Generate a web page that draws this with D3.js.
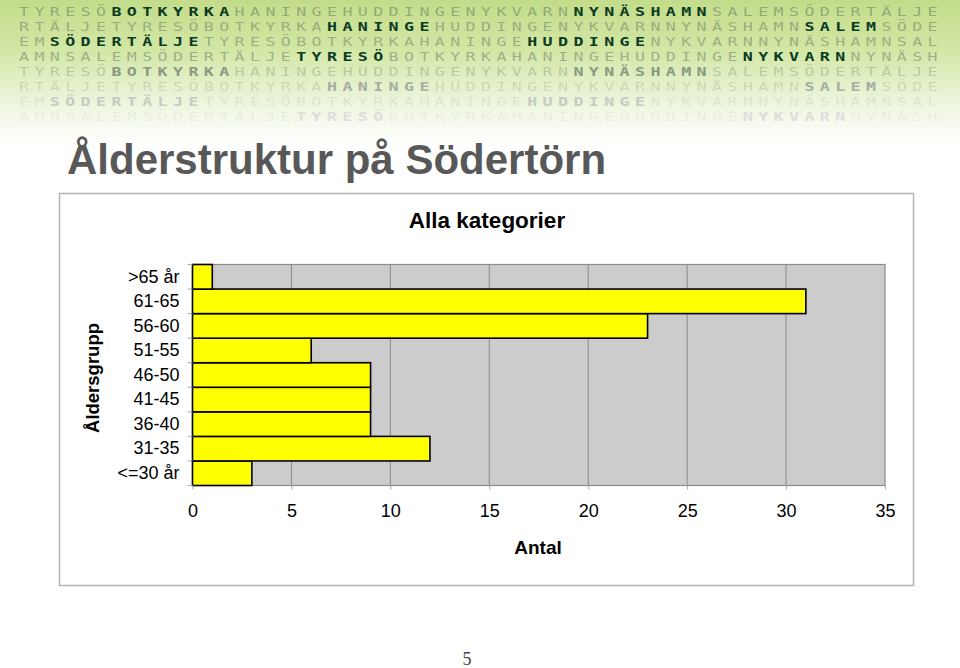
<!DOCTYPE html>
<html><head><meta charset="utf-8">
<script src="https://cdn.jsdelivr.net/npm/d3@7"></script>
<style>html,body{margin:0;padding:0;background:#fff;}svg{display:block;}</style>
</head><body>
<script>
// ---- data ----
const categories = ["<=30 år","31-35","36-40","41-45","46-50","51-55","56-60","61-65",">65 år"];
const values = [3,12,9,9,9,6,23,31,1];
const xTicks = [0,5,10,15,20,25,30,35];
const title = "Ålderstruktur på Södertörn";
const chartTitle = "Alla kategorier";
const yTitle = "Åldersgrupp";
const xTitle = "Antal";
const pageNumber = "5";

// banner decoration
const bannerBase = "TYRESÖBOTKYRKAHANINGEHUDDINGENYKVARNNYNÄSHAMNSALEMSÖDERTÄLJE";
const bannerOffsets = [0,54,48,42,0,54,48,42];
const bannerHighlights = [[[6,13],[36,44]],[[14,20],[45,49]],[[50,59],[21,28]],[[0,5],[29,35]],
                          [[6,13],[36,44]],[[14,20],[45,49]],[[50,59],[21,28]],[[0,5],[29,35]]];
const hiColors = ["#0b3b22","#0b3b22","#0b3b22","#0b3b22","#8a9a82","#a6aea2","#c6cbc3","#dcdfd9"];
const dimColors = ["rgba(105,120,95,0.55)","rgba(105,120,95,0.52)","rgba(105,120,95,0.50)","rgba(105,120,95,0.52)",
                   "rgba(105,120,95,0.32)","rgba(105,120,95,0.22)","rgba(105,120,95,0.14)","rgba(105,120,95,0.09)"];

(function(){
const W = 960, H = 668;
const svg = d3.select("body").append("svg").attr("width", W).attr("height", H);
const defs = svg.append("defs");
const g1 = defs.append("linearGradient").attr("id","bg").attr("x1",0).attr("y1",0).attr("x2",0).attr("y2",1);
g1.append("stop").attr("offset",0).attr("stop-color","#c3dc8a");
g1.append("stop").attr("offset",0.35).attr("stop-color","#d3e7a6");
g1.append("stop").attr("offset",0.7).attr("stop-color","#ecf5dc");
g1.append("stop").attr("offset",1).attr("stop-color","#ffffff");
svg.append("rect").attr("x",0).attr("y",0).attr("width",W).attr("height",145).attr("fill","url(#bg)");

// banner letters
const pitch = 15.4, bx0 = 24;
bannerOffsets.forEach((off, r) => {
  const row = svg.append("g");
  for (let i = 0; i < 60; i++) {
    const bi = (i + off) % 60;
    const hl = bannerHighlights[r].some(([a,b]) => bi >= a && bi <= b);
    row.append("text")
      .attr("transform", `translate(${bx0 + i*pitch},${15.5 + r*15}) scale(1.3,1)`)
      .attr("text-anchor","middle")
      .attr("font-family","DejaVu Sans Mono")
      .attr("font-size",12.8)
      .attr("font-weight", hl ? "bold" : "normal")
      .attr("fill", hl ? hiColors[r] : dimColors[r])
      .text(bannerBase[bi]);
  }
});

// page title
svg.append("text").attr("x",67).attr("y",174)
  .attr("font-family","Liberation Sans, Arial, sans-serif").attr("font-weight","bold")
  .attr("font-size",42).attr("fill","#585858").text(title);

// chart frame
svg.append("rect").attr("x",59.5).attr("y",193.5).attr("width",854).attr("height",392)
  .attr("fill","#fff").attr("stroke","#b4b4b4").attr("stroke-width",1.5);

svg.append("text").attr("x",487).attr("y",228).attr("text-anchor","middle")
  .attr("font-family","Liberation Sans, Arial, sans-serif").attr("font-weight","bold")
  .attr("font-size",22.5).attr("fill","#000").text(chartTitle);

const pLeft = 192.5, pRight = 885, pTop = 264.5, pBottom = 485.5;
const x = d3.scaleLinear().domain([0,35]).range([pLeft,pRight]);
const y = d3.scaleBand().domain(categories.slice().reverse()).range([pTop,pBottom]).padding(0);

// plot background
svg.append("rect").attr("x",pLeft).attr("y",pTop).attr("width",pRight-pLeft).attr("height",pBottom-pTop)
  .attr("fill","#cccccc");
// gridlines
svg.append("g").selectAll("line").data(xTicks.slice(1,-1)).join("line")
  .attr("x1",d=>x(d)).attr("x2",d=>x(d)).attr("y1",pTop).attr("y2",pBottom)
  .attr("stroke","#8a8a8a").attr("stroke-width",1);
svg.append("rect").attr("x",pLeft).attr("y",pTop).attr("width",pRight-pLeft).attr("height",pBottom-pTop)
  .attr("fill","none").attr("stroke","#8a8a8a").attr("stroke-width",1.2);

// bars
svg.append("g").selectAll("rect").data(categories).join("rect")
  .attr("x", x(0)).attr("y", d => y(d))
  .attr("width", (d,i) => x(values[i]) - x(0))
  .attr("height", y.bandwidth())
  .attr("fill","#ffff00").attr("stroke","#000").attr("stroke-width",1.6);

// axes
const xAxis = d3.axisBottom(x).tickValues(xTicks).tickSize(4).tickPadding(15);
const gx = svg.append("g").attr("transform",`translate(0,${pBottom})`).call(xAxis);
gx.select(".domain").remove();
gx.selectAll(".tick line").attr("stroke","#aaa");
gx.selectAll("text").attr("font-family","Liberation Sans, Arial, sans-serif").attr("font-size",18).attr("fill","#000");

const yAxis = d3.axisLeft(y).tickSize(0).tickPadding(13);
const gy = svg.append("g").attr("transform",`translate(${pLeft},0)`).call(yAxis);
gy.select(".domain").remove();
gy.selectAll("text").attr("font-family","Liberation Sans, Arial, sans-serif").attr("font-size",18).attr("fill","#000");
// boundary ticks
svg.append("g").selectAll("line").data(d3.range(categories.length+1)).join("line")
  .attr("x1",pLeft-5).attr("x2",pLeft).attr("y1",i=>pTop + i*y.step()).attr("y2",i=>pTop + i*y.step())
  .attr("stroke","#aaa");

// axis titles
svg.append("text").attr("transform","translate(99,378) rotate(-90)").attr("text-anchor","middle")
  .attr("font-family","Liberation Sans, Arial, sans-serif").attr("font-weight","bold")
  .attr("font-size",18.5).attr("fill","#000").text(yTitle);
svg.append("text").attr("x",538).attr("y",554).attr("text-anchor","middle")
  .attr("font-family","Liberation Sans, Arial, sans-serif").attr("font-weight","bold")
  .attr("font-size",19).attr("fill","#000").text(xTitle);

svg.append("text").attr("x",467).attr("y",665).attr("text-anchor","middle")
  .attr("font-family","Liberation Serif, serif").attr("font-size",18).attr("fill","#444").text(pageNumber);
})();
</script>
</body></html>
